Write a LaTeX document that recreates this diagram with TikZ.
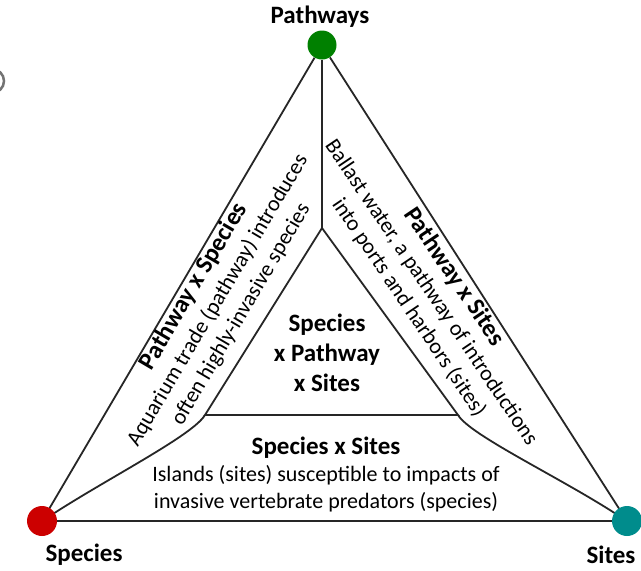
\documentclass[tikz,border=0pt]{standalone}
\usepackage{fontspec}
\setmainfont{Carlito}
\begin{document}
\begin{tikzpicture}[x=1pt,y=-1pt,
  edge/.style={line width=1.8pt, black!85},
  vtx/.style={circle, minimum size=29pt, inner sep=0pt},
  vlabel/.style={font=\fontsize{25}{30}\selectfont\bfseries},
  bodytext/.style={font=\fontsize{22}{27}\selectfont, align=center, inner sep=0pt},
  titletext/.style={font=\fontsize{25}{30}\selectfont\bfseries, align=center, inner sep=0pt}]
\useasboundingbox (0,0) rectangle (641,571);
\fill[white] (0,0) rectangle (641,571);
% partial grey mark at left edge
\draw[black!55, line width=2.5pt] (-8,81) circle (12);
% inner vertices
\coordinate (it) at (322,228);
\coordinate (ibl) at (205,415);
\coordinate (ibr) at (458,415);
% outer vertex nodes
\node[vtx] (pw) at (322,45) {};
\node[vtx] (sp) at (42,521) {};
\node[vtx] (si) at (627,521) {};
% edges
\draw[edge] (sp) -- (pw);
\draw[edge] (pw) -- (si);
\draw[edge] (sp) -- (si);
\draw[edge] (it) -- (ibl) -- (ibr) -- cycle;
\draw[edge] (pw) -- (it);
\draw[edge] (ibl) .. controls +(-12,20) and +(70,-45) .. (sp);
\draw[edge] (ibr) .. controls +(12,20) and +(-70,-45) .. (si);
% vertex fills on top
\fill[green!50!black] (pw) circle (14.5);
\fill[red!80!black] (sp) circle (15);
\fill[teal!90!cyan] (si) circle (15);
% vertex labels
\node[vlabel] (lpw) at (320,17) {Pathways};
\node[vlabel] (lsp) at (84,555) {Species};
\node[vlabel] (lsi) at (611,555) {Sites};
% centre
\node[titletext] (ctr) at (327,353) {Species\\x Pathway\\x Sites};
% bottom
\node[bodytext] (bot) at (326,474) {{\bfseries\fontsize{25}{28}\selectfont Species x Sites}\\Islands (sites) susceptible to impacts of\\invasive vertebrate predators (species)};
% left
\node[bodytext, rotate=59.5] (lft) at (217,300) {{\bfseries\fontsize{25}{28}\selectfont Pathway x Species}\\Aquarium trade (pathway) introduces\\often highly-invasive species};
% right
\node[bodytext, rotate=-56] (rgt) at (432,292) {{\bfseries\fontsize{25}{28}\selectfont Pathway x Sites}\\Ballast water, a pathway of introductions\\into ports and harbors (sites)};
\end{tikzpicture}
\end{document}
